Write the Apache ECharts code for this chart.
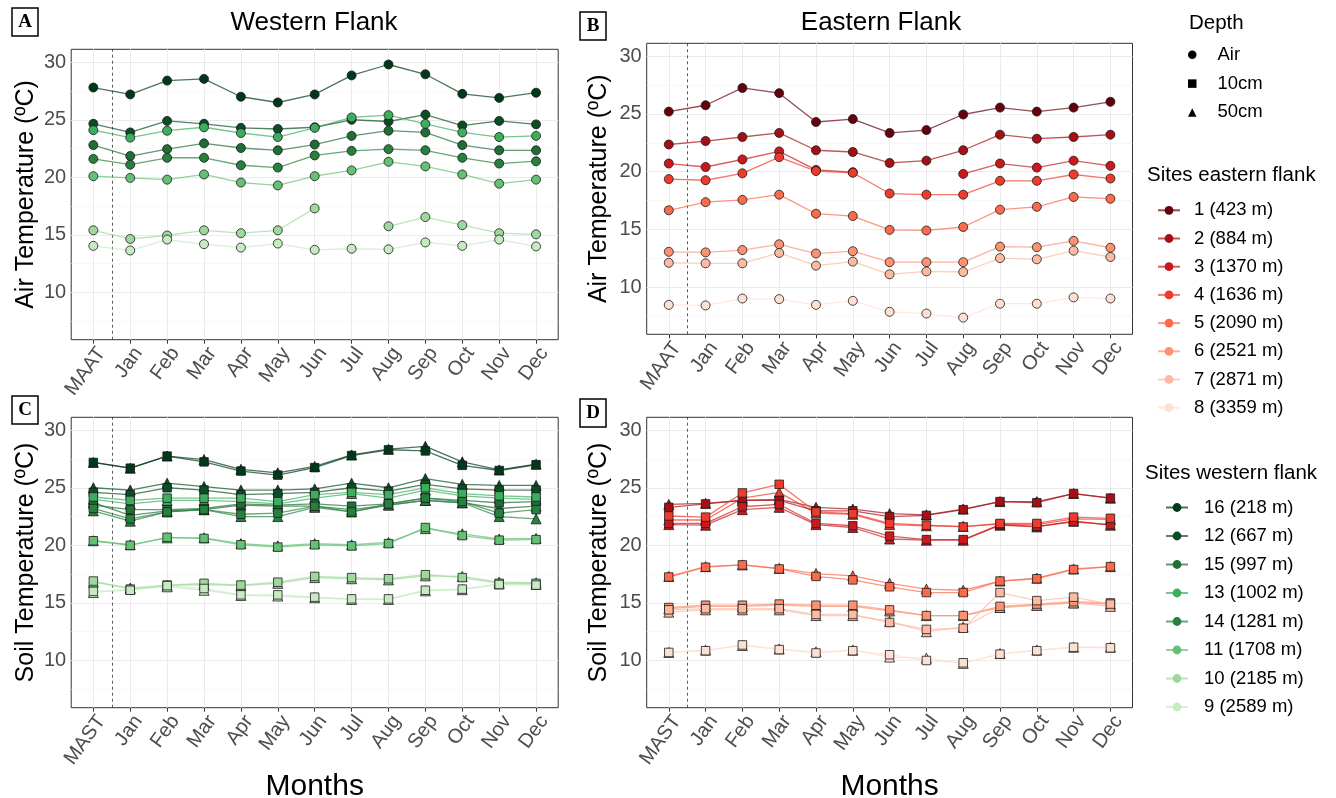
<!DOCTYPE html>
<html><head><meta charset="utf-8">
<script src="https://cdn.jsdelivr.net/npm/echarts@6/dist/echarts.min.js"></script>
<style>html,body{margin:0;padding:0;background:#fff}#c{width:1336px;height:798px}</style>
</head><body><div id="c"></div><script>
// ---------- categories / ticks ----------
const airLabels  = ['MAAT','Jan','Feb','Mar','Apr','May','Jun','Jul','Aug','Sep','Oct','Nov','Dec'];
const soilLabels = ['MAST','Jan','Feb','Mar','Apr','May','Jun','Jul','Aug','Sep','Oct','Nov','Dec'];
const xIdx   = [0,1,2,3,4,5,6,7,8,9,10,11,12];
const yTicks = [10,15,20,25,30];
const yMinor = [7.5,12.5,17.5,22.5,27.5];

const westSites  = ['16 (218 m)','12 (667 m)','15 (997 m)','13 (1002 m)','14 (1281 m)','11 (1708 m)','10 (2185 m)','9 (2589 m)'];
const westColors = ['#00391a','#0b4d24','#1f6e36','#3cae5e','#26813f','#63c174','#9fd89c','#c8eac3'];
const eastSites  = ['1 (423 m)','2 (884 m)','3 (1370 m)','4 (1636 m)','5 (2090 m)','6 (2521 m)','7 (2871 m)','8 (3359 m)'];
const eastColors = ['#67000d','#a50f15','#cb181d','#ef3b2c','#fb6a4a','#fc9272','#fcbba1','#fee0d2'];
const depthNames = ['Air','10cm','50cm'];

// ---------- A: air temperature, western flank (MAAT, Jan..Dec) ----------
const airW16 = [27.8,27.2,28.4,28.55,27.0,26.5,27.2,28.85,29.8,28.95,27.25,26.9,27.35];
const airW12 = [24.65,23.9,24.9,24.65,24.3,24.2,24.35,25.0,24.85,25.45,24.5,24.9,24.6];
const airW15 = [22.8,21.85,22.45,22.95,22.55,22.35,22.85,23.6,24.05,23.9,22.8,22.35,22.35];
const airW13 = [24.1,23.45,24.05,24.35,23.85,23.5,24.3,25.2,25.4,24.65,23.9,23.5,23.6];
const airW14 = [21.6,21.1,21.7,21.7,21.05,20.85,21.9,22.3,22.45,22.35,21.7,21.2,21.4];
const airW11 = [20.1,19.95,19.8,20.25,19.55,19.3,20.1,20.6,21.35,20.95,20.25,19.45,19.8];
const airW10 = [15.4,14.65,14.95,15.4,15.15,15.4,17.3,null,15.75,16.55,15.85,15.15,15.05];
const airW9  = [14.05,13.65,14.6,14.2,13.9,14.25,13.7,13.8,13.75,14.35,14.05,14.6,14.0];

// ---------- B: air temperature, eastern flank ----------
const airE1 = [25.2,25.75,27.25,26.8,24.3,24.55,23.35,23.6,24.95,25.55,25.2,25.55,26.05];
const airE2 = [22.35,22.65,23.0,23.35,21.85,21.7,20.75,20.95,21.85,23.2,22.85,23.0,23.2];
const airE3 = [20.7,20.4,21.05,21.75,20.15,19.95,null,null,19.8,20.7,20.35,20.95,20.5];
const airE4 = [19.35,19.25,19.85,21.25,20.05,19.9,18.1,18.0,18.0,19.2,19.2,19.75,19.4];
const airE5 = [16.65,17.35,17.55,18.0,16.35,16.15,14.95,14.9,15.2,16.7,16.95,17.8,17.65];
const airE6 = [13.05,13.0,13.2,13.7,12.9,13.1,12.15,12.15,12.15,13.5,13.45,14.0,13.4];
const airE7 = [12.1,12.05,12.05,12.95,11.85,12.2,11.1,11.35,11.3,12.5,12.4,13.15,12.6];
const airE8 = [8.45,8.4,9.0,8.95,8.45,8.8,7.85,7.7,7.35,8.55,8.55,9.1,9.0];

// ---------- C: soil temperature, western flank (MAST, Jan..Dec) ----------
const soilW16_10 = [27.2,26.7,27.75,27.25,26.45,26.1,26.75,27.8,28.3,28.2,26.95,26.5,27.0];
const soilW16_50 = [27.2,26.7,27.75,27.45,26.6,26.3,26.85,27.85,28.35,28.6,27.25,26.55,27.05];
const soilW12_10 = [24.6,24.4,25.0,24.8,24.4,24.5,24.6,25.0,24.7,25.3,24.9,24.8,24.8];
const soilW12_50 = [25.0,24.8,25.4,25.1,24.8,24.8,24.9,25.4,25.0,25.8,25.3,25.2,25.2];
const soilW15_10 = [23.5,23.1,23.1,23.2,23.6,23.5,23.6,23.4,23.6,24.1,23.9,23.7,23.8];
const soilW15_50 = [23.7,22.6,23.0,23.1,23.5,23.4,23.4,23.1,23.5,23.9,23.7,23.2,23.4];
const soilW13_10 = [24.2,23.9,24.1,24.1,24.1,23.8,24.4,24.6,24.4,25.0,24.5,24.3,24.2];
const soilW13_50 = [24.0,23.6,23.9,23.9,23.8,23.6,24.1,24.5,24.1,24.8,24.3,24.1,24.0];
const soilW14_10 = [23.2,22.3,22.9,23.1,22.7,22.8,23.4,22.9,23.6,24.1,23.8,22.8,23.1];
const soilW14_50 = [23.0,22.1,22.9,23.1,22.5,22.5,23.3,22.9,23.5,23.9,23.7,22.5,22.3];
const soilW11_10 = [20.4,20.0,20.7,20.6,20.05,19.85,20.05,19.95,20.15,21.55,20.85,20.45,20.5];
const soilW11_50 = [20.4,20.05,20.65,20.65,20.15,19.95,20.15,20.05,20.25,21.45,21.0,20.55,20.6];
const soilW10_10 = [16.9,16.2,16.55,16.7,16.55,16.8,17.3,17.2,17.1,17.45,17.2,16.7,16.7];
const soilW10_50 = [16.8,16.3,16.5,16.6,16.5,16.7,17.2,17.1,17.0,17.35,17.3,16.8,16.75];
const soilW9_10  = [16.0,16.1,16.5,16.25,15.7,15.7,15.5,15.35,15.35,16.1,16.2,16.6,16.55];
const soilW9_50  = [15.9,16.2,16.4,16.1,15.65,15.6,15.45,15.3,15.3,16.05,16.15,16.65,16.6];

// ---------- D: soil temperature, eastern flank ----------
const soilE2_10 = [23.3,23.6,23.9,23.9,23.0,23.0,22.5,22.6,23.1,23.8,23.7,24.5,24.1];
const soilE2_50 = [23.55,23.65,23.9,24.0,23.3,23.15,22.75,22.65,23.15,23.8,23.8,24.5,24.1];
const soilE3_10 = [21.9,21.9,23.35,23.55,21.9,21.7,20.8,20.5,20.5,21.8,21.65,22.05,21.8];
const soilE3_50 = [21.8,21.75,23.1,23.3,21.8,21.55,20.55,20.45,20.45,21.75,21.6,22.1,21.75];
const soilE4_10 = [22.55,22.45,24.55,25.3,22.9,22.75,21.9,21.75,21.6,21.9,21.9,22.45,22.35];
const soilE4_50 = [22.2,22.2,24.1,24.6,22.8,22.7,21.8,21.7,21.65,21.85,21.8,22.3,22.25];
const soilE5_10 = [17.25,18.1,18.3,17.95,17.3,17.0,16.4,15.9,15.9,16.9,17.1,17.9,18.15];
const soilE5_50 = [17.3,18.15,18.3,18.0,17.55,17.35,16.7,16.2,16.1,16.9,17.15,17.95,18.15];
const soilE6_10 = [14.6,14.8,14.8,14.9,14.8,14.8,14.4,13.9,13.9,14.7,14.9,15.1,15.0];
const soilE6_50 = [14.5,14.7,14.7,14.8,14.7,14.7,14.3,13.9,13.9,14.6,14.8,15.0,14.9];
const soilE7_10 = [14.4,14.5,14.5,14.5,14.0,14.0,13.3,12.7,12.8,15.9,15.2,15.5,14.9];
const soilE7_50 = [14.2,14.4,14.4,14.4,13.9,13.9,13.4,12.5,12.9,14.6,14.8,15.0,14.7];
const soilE8_10 = [10.7,10.85,11.35,10.95,10.65,10.85,10.5,10.0,9.8,10.55,10.85,11.15,11.1];
const soilE8_50 = [10.7,10.9,11.3,11.0,10.75,10.9,10.3,10.2,9.75,10.6,10.9,11.15,11.15];

// ---------- grouping (order matches site lists) ----------
const airWest = [airW16,airW12,airW15,airW13,airW14,airW11,airW10,airW9];
const airEast = [airE1,airE2,airE3,airE4,airE5,airE6,airE7,airE8];
const soilWest10 = [soilW16_10,soilW12_10,soilW15_10,soilW13_10,soilW14_10,soilW11_10,soilW10_10,soilW9_10];
const soilWest50 = [soilW16_50,soilW12_50,soilW15_50,soilW13_50,soilW14_50,soilW11_50,soilW10_50,soilW9_50];
const soilEast10 = [null,soilE2_10,soilE3_10,soilE4_10,soilE5_10,soilE6_10,soilE7_10,soilE8_10];
const soilEast50 = [null,soilE2_50,soilE3_50,soilE4_50,soilE5_50,soilE6_50,soilE7_50,soilE8_50];

// ---------- layout ----------
const FONT = 'Liberation Sans, Arial, sans-serif';
const grids = [
  {left:71.2,  top:49.3,  width:487,   height:290.4},
  {left:646.7, top:43.3,  width:485.8, height:291},
  {left:71.2,  top:417.3, width:487,   height:290.4},
  {left:646.7, top:417.3, width:485.8, height:290.4}
];
const Y_MIN = 5.9, Y_MAX = 31.12;

function xAxisFor(i){
  const labels = i < 2 ? airLabels : soilLabels;
  return {
    type:'value', gridIndex:i, min:-0.6, max:12.6,
    axisLine:{show:false}, splitLine:{show:false},
    axisTick:{show:true, length:4, customValues:xIdx, lineStyle:{color:'#333', width:1}},
    axisLabel:{customValues:xIdx, rotate:54, fontSize:20, color:'#4d4d4d', margin:4, fontFamily:FONT,
               align:'right', verticalAlign:'top',
               formatter:v => labels[Math.round(v)]},
    name: i >= 2 ? 'Months' : '', nameLocation:'middle', nameGap:56,
    nameTextStyle:{fontSize:30, color:'#000', fontFamily:FONT}
  };
}
function yAxisFor(i){
  return {
    type:'value', gridIndex:i, min:Y_MIN, max:Y_MAX,
    axisLine:{show:false}, splitLine:{show:false},
    axisTick:{show:true, length:4, customValues:yTicks, lineStyle:{color:'#333', width:1}},
    axisLabel:{customValues:yTicks, fontSize:20, color:'#4d4d4d', margin:5, fontFamily:FONT},
    name: i < 2 ? 'Air Temperature (ºC)' : 'Soil Temperature (ºC)',
    nameLocation:'middle', nameGap: (i % 2 === 0) ? 33 : 35,
    nameTextStyle:{fontSize:25, color:'#000', fontFamily:FONT}
  };
}
function bgSeries(i){
  const d = [];
  xIdx.forEach(k => d.push({xAxis:k, lineStyle:{color:'#ebebeb', width:1, type:'solid'}}));
  yMinor.forEach(v => d.push({yAxis:v, lineStyle:{color:'#f4f4f4', width:0.6, type:'solid'}}));
  yTicks.forEach(v => d.push({yAxis:v, lineStyle:{color:'#ebebeb', width:1, type:'solid'}}));
  d.push({xAxis:0.5, lineStyle:{color:'#333', width:0.8, type:[3,3]}});
  return {type:'line', xAxisIndex:i, yAxisIndex:i, data:[], silent:true, z:1,
          markLine:{silent:true, z:1, animation:false, symbol:['none','none'], label:{show:false}, data:d}};
}
function mk(name, vals, color, symbol, gi, size){
  return {
    type:'line', name, xAxisIndex:gi, yAxisIndex:gi, z:3,
    data: vals.map((v,k) => [k, v == null ? '-' : v]),
    connectNulls:false, symbol, symbolSize:size, showSymbol:true,
    itemStyle:{color, borderColor:'#1a1a1a', borderWidth:0.8, opacity:1},
    lineStyle:{color, width:1.3, opacity:0.7},
    emphasis:{disabled:true}, animation:false
  };
}

const series = [0,1,2,3].map(bgSeries);
// depth legend proxies
series.push({type:'line', name:'Air',  data:[], symbol:'circle',   itemStyle:{color:'#000'}, xAxisIndex:0, yAxisIndex:0});
series.push({type:'line', name:'10cm', data:[], symbol:'rect',     itemStyle:{color:'#000'}, xAxisIndex:0, yAxisIndex:0});
series.push({type:'line', name:'50cm', data:[], symbol:'triangle', itemStyle:{color:'#000'}, xAxisIndex:0, yAxisIndex:0});

airWest.forEach((a,k) => series.push(mk(westSites[k], a, westColors[k], 'circle', 0, 9)));
airEast.forEach((a,k) => series.push(mk(eastSites[k], a, eastColors[k], 'circle', 1, 9)));
soilWest50.forEach((a,k) => series.push(mk(westSites[k], a, westColors[k], 'triangle', 2, 10)));
soilWest10.forEach((a,k) => series.push(mk(westSites[k], a, westColors[k], 'rect', 2, 8.5)));
soilEast50.forEach((a,k) => { if (a) series.push(mk(eastSites[k], a, eastColors[k], 'triangle', 3, 10)); });
soilEast10.forEach((a,k) => { if (a) series.push(mk(eastSites[k], a, eastColors[k], 'rect', 3, 8.5)); });

const legendText = {fontSize:18.5, color:'#000', fontFamily:FONT, lineHeight:20};

const option = {
  animation:false,
  backgroundColor:'#fff',
  grid: grids.map(g => Object.assign({show:true, borderColor:'#333', borderWidth:1, backgroundColor:'#fff',
                                       containLabel:false, outerBoundsMode:'none'}, g)),
  xAxis:[0,1,2,3].map(xAxisFor),
  yAxis:[0,1,2,3].map(yAxisFor),
  legend:[
    {left:1188, top:44.8, padding:0, orient:'vertical', selectedMode:false, itemWidth:8.5, itemHeight:8.5, itemGap:8.8,
     data:[{name:'Air', icon:'circle'},{name:'10cm', icon:'rect'},{name:'50cm', icon:'triangle'}],
     textStyle:Object.assign({padding:[0,0,0,16]}, legendText)},
    {left:1157, top:200.3, padding:0, orient:'vertical', selectedMode:false, itemWidth:22, itemHeight:11, itemGap:8.2,
     data:eastSites, itemStyle:{borderWidth:0}, textStyle:Object.assign({padding:[0,0,0,9]}, legendText)},
    {left:1165, top:497.5, padding:0, orient:'vertical', selectedMode:false, itemWidth:22, itemHeight:11, itemGap:8.5,
     data:westSites, itemStyle:{borderWidth:0}, textStyle:Object.assign({padding:[0,0,0,11]}, legendText)}
  ],
  graphic:[
    {type:'text', x:314, y:23, style:{text:'Western Flank', fontSize:26, fill:'#000', fontFamily:FONT, align:'center', verticalAlign:'middle'}},
    {type:'text', x:881, y:23, style:{text:'Eastern Flank', fontSize:26, fill:'#000', fontFamily:FONT, align:'center', verticalAlign:'middle'}},
    {type:'text', x:1189, y:23, style:{text:'Depth', fontSize:20.5, fill:'#000', fontFamily:FONT, align:'left', verticalAlign:'middle'}},
    {type:'text', x:1147, y:175, style:{text:'Sites eastern flank', fontSize:20.5, fill:'#000', fontFamily:FONT, align:'left', verticalAlign:'middle'}},
    {type:'text', x:1145, y:473, style:{text:'Sites western flank', fontSize:20.5, fill:'#000', fontFamily:FONT, align:'left', verticalAlign:'middle'}},
    {type:'rect', shape:{x:12, y:8, width:26, height:28}, style:{fill:'#fff', stroke:'#000', lineWidth:1.5}},
    {type:'text', x:25, y:22.5, style:{text:'A', fontSize:19, fontWeight:'bold', fill:'#000', fontFamily:'Liberation Serif, serif', align:'center', verticalAlign:'middle'}},
    {type:'rect', shape:{x:580, y:12, width:26, height:28}, style:{fill:'#fff', stroke:'#000', lineWidth:1.5}},
    {type:'text', x:593, y:26.5, style:{text:'B', fontSize:19, fontWeight:'bold', fill:'#000', fontFamily:'Liberation Serif, serif', align:'center', verticalAlign:'middle'}},
    {type:'rect', shape:{x:12, y:396, width:26, height:28}, style:{fill:'#fff', stroke:'#000', lineWidth:1.5}},
    {type:'text', x:25, y:410.5, style:{text:'C', fontSize:19, fontWeight:'bold', fill:'#000', fontFamily:'Liberation Serif, serif', align:'center', verticalAlign:'middle'}},
    {type:'rect', shape:{x:580, y:399, width:26, height:28}, style:{fill:'#fff', stroke:'#000', lineWidth:1.5}},
    {type:'text', x:593, y:413.5, style:{text:'D', fontSize:19, fontWeight:'bold', fill:'#000', fontFamily:'Liberation Serif, serif', align:'center', verticalAlign:'middle'}}
  ],
  series
};
const chart = echarts.init(document.getElementById('c'), null, {renderer:'canvas'});
chart.setOption(option);
</script></body></html>
